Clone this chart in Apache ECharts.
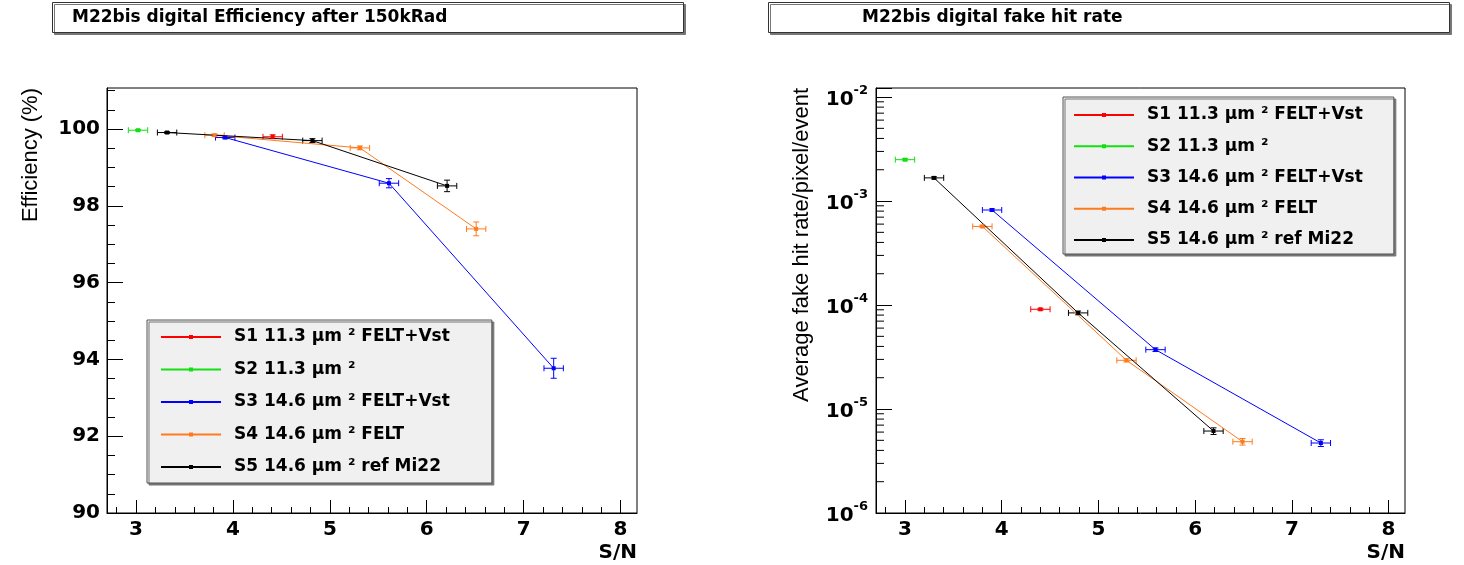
<!DOCTYPE html>
<html><head><meta charset="utf-8">
<script src="https://cdn.jsdelivr.net/npm/echarts@6/dist/echarts.min.js"></script>
<style>html,body{margin:0;padding:0;background:#fff;}#c{width:1464px;height:565px;}</style>
</head><body><div id="c"></div>
<script>
// ---------------- data ----------------
const seriesNames = ['S1 11.3 μm ² FELT+Vst', 'S2 11.3 μm ²', 'S3 14.6 μm ² FELT+Vst', 'S4 14.6 μm ² FELT', 'S5 14.6 μm ² ref Mi22'];
const seriesColors = ['#ff0000', '#11e011', '#0000ff', '#ff7a1e', '#000000'];

// Efficiency vs S/N
const effSN      = [[4.41], [3.02], [3.92, 5.61, 7.31], [3.81, 5.31, 6.51], [3.32, 4.82, 6.21]];
const effSNErr   = [[0.10], [0.10], [0.10, 0.10, 0.10], [0.10, 0.10, 0.10], [0.10, 0.10, 0.10]];
const effValues  = [[99.80], [99.97], [99.78, 98.59, 93.77], [99.84, 99.51, 97.40], [99.91, 99.70, 98.52]];
const effErr     = [[0.05], [0.02], [0.03, 0.12, 0.26], [0.03, 0.05, 0.18], [0.02, 0.05, 0.15]];

// Fake hit rate vs S/N
const fakeSN     = [[4.40], [3.00], [3.90, 5.59, 7.30], [3.80, 5.29, 6.49], [3.30, 4.79, 6.19]];
const fakeSNErr  = [[0.10], [0.10], [0.10, 0.10, 0.10], [0.10, 0.10, 0.10], [0.10, 0.10, 0.10]];
const fakeValues = [[9.1e-5], [2.5e-3], [8.2e-4, 3.72e-5, 4.71e-6], [5.7e-4, 2.94e-5, 4.85e-6], [1.67e-3, 8.4e-5, 6.14e-6]];
const fakeErr    = [[2e-6], [6e-5], [2e-5, 1.5e-6, 3.5e-7], [1.5e-5, 1e-6, 3.5e-7], [4e-5, 3.5e-6, 4.5e-7]];

// axes / ticks
const snRange = [2.7, 8.17];
const snTicks = [3, 4, 5, 6, 7, 8];
const snMinorTicks = [2.8, 3.2, 3.4, 3.6, 3.8, 4.2, 4.4, 4.6, 4.8, 5.2, 5.4, 5.6, 5.8, 6.2, 6.4, 6.6, 6.8, 7.2, 7.4, 7.6, 7.8];
const effRange = [90, 101.07];
const effTicks = [90, 92, 94, 96, 98, 100];
const fakeRange = [1e-6, 0.01222];
const fakeMinorTicks = [
  2e-6, 3e-6, 4e-6, 5e-6, 6e-6, 7e-6, 8e-6, 9e-6,
  2e-5, 3e-5, 4e-5, 5e-5, 6e-5, 7e-5, 8e-5, 9e-5,
  2e-4, 3e-4, 4e-4, 5e-4, 6e-4, 7e-4, 8e-4, 9e-4,
  2e-3, 3e-3, 4e-3, 5e-3, 6e-3, 7e-3, 8e-3, 9e-3
];
const titles = ['M22bis digital Efficiency after 150kRad', 'M22bis digital fake hit rate'];
const yTitles = ['Efficiency (%)', 'Average fake hit rate/pixel/event'];
const xTitle = 'S/N';

// ---------------- chart ----------------
const BOLD = 'DejaVu Sans';
const labelFont = {fontFamily: BOLD, fontWeight: 'bold', fontSize: 20, color: '#000'};

function renderErr(params, api) {
  const x = api.value(0), y = api.value(1), ex = api.value(2), ey = api.value(3);
  const c = api.coord([x, y]);
  const l = api.coord([x - ex, y]), r = api.coord([x + ex, y]);
  const b = api.coord([x, y - ey]), t = api.coord([x, y + ey]);
  const style = {stroke: api.visual('color'), lineWidth: 1, fill: null};
  const cap = 3;
  const L = (x1, y1, x2, y2) => ({type: 'line', shape: {x1, y1, x2, y2}, style});
  return {type: 'group', children: [
    L(l[0], c[1], r[0], c[1]),
    L(l[0], c[1] - cap, l[0], c[1] + cap),
    L(r[0], c[1] - cap, r[0], c[1] + cap),
    L(c[0], b[1], c[0], t[1]),
    L(c[0] - cap, b[1], c[0] + cap, b[1]),
    L(c[0] - cap, t[1], c[0] + cap, t[1])
  ]};
}
function renderMinorY(params, api) {
  const p = api.coord([api.value(0), api.value(1)]);
  const x0 = params.coordSys.x;
  return {type: 'line', shape: {x1: x0, y1: p[1], x2: x0 + 8, y2: p[1]}, style: {stroke: '#000', lineWidth: 1}};
}

const series = [];
[[effSN, effValues, 0, 0], [fakeSN, fakeValues, 2, 1]].forEach(([xs, ys, xi, yi]) => {
  seriesNames.forEach((name, k) => {
    series.push({
      type: 'line', name, xAxisIndex: xi, yAxisIndex: yi,
      data: xs[k].map((x, i) => [x, ys[k][i]]),
      symbol: 'rect', symbolSize: 4, showAllSymbol: true,
      lineStyle: {color: seriesColors[k], width: 1},
      itemStyle: {color: seriesColors[k]},
      emphasis: {disabled: true}, silent: true, z: 3
    });
  });
});
[[effSN, effValues, effSNErr, effErr, 0, 0], [fakeSN, fakeValues, fakeSNErr, fakeErr, 2, 1]].forEach(([xs, ys, exs, eys, xi, yi]) => {
  seriesNames.forEach((name, k) => {
    series.push({
      type: 'custom', name, xAxisIndex: xi, yAxisIndex: yi,
      data: xs[k].map((x, i) => [x, ys[k][i], exs[k][i], eys[k][i]]),
      encode: {x: 0, y: 1},
      itemStyle: {color: seriesColors[k]},
      renderItem: renderErr, clip: false, silent: true, z: 2
    });
  });
});
series.push({
  type: 'custom', xAxisIndex: 2, yAxisIndex: 1,
  data: fakeMinorTicks.map(v => [snRange[0], v]),
  encode: {x: 0, y: 1},
  renderItem: renderMinorY, clip: false, silent: true, z: 4
});

function snAxis(gridIndex) {
  return {type: 'value', gridIndex, position: 'bottom', min: snRange[0], max: snRange[1],
    axisLine: {show: true, onZero: false, lineStyle: {color: '#000', width: 1}},
    axisTick: {show: true, inside: true, length: 13, customValues: snTicks, lineStyle: {color: '#000'}},
    axisLabel: Object.assign({show: true, customValues: snTicks, margin: 7}, labelFont),
    splitLine: {show: false}};
}
function snMinorAxis(gridIndex) {
  return {type: 'value', gridIndex, position: 'bottom', min: snRange[0], max: snRange[1],
    axisLine: {show: false},
    axisTick: {show: true, inside: true, length: 6, customValues: snMinorTicks, lineStyle: {color: '#000'}},
    axisLabel: {show: false}, splitLine: {show: false}};
}

const legendBase = {
  data: seriesNames, orient: 'vertical', itemWidth: 60, itemHeight: 5,
  backgroundColor: '#f0f0f0', borderColor: '#555', borderWidth: 1,
  shadowColor: '#777', shadowOffsetX: 2, shadowOffsetY: 2, shadowBlur: 0,
  selectedMode: false,
  textStyle: {fontFamily: BOLD, fontWeight: 'bold', fontSize: 17, color: '#000', lineHeight: 20, padding: [0, 0, 0, 8]}
};
const titleBase = {
  top: 2, backgroundColor: '#fff', borderColor: '#333', borderWidth: 1,
  shadowColor: '#777', shadowOffsetX: 2, shadowOffsetY: 2, shadowBlur: 0,
  textStyle: {fontFamily: BOLD, fontWeight: 'bold', fontSize: 17, color: '#000', lineHeight: 19}
};

const option = {
  animation: false,
  backgroundColor: '#fff',
  title: [
    Object.assign({text: titles[0], left: 52, padding: [6, 236, 6, 20]}, titleBase),
    Object.assign({text: titles[1], left: 768, padding: [6, 327, 6, 94]}, titleBase)
  ],
  legend: [
    Object.assign({left: 147, top: 320, itemGap: 12.5, padding: [7, 42, 6, 13]}, legendBase),
    Object.assign({left: 1063, top: 97, itemGap: 11.25, padding: [8, 31, 4, 10]}, legendBase)
  ],
  grid: [
    {left: 107, top: 88, width: 530, height: 425, show: true, borderColor: '#000', borderWidth: 1, backgroundColor: '#fff', containLabel: false},
    {left: 876, top: 88, width: 529, height: 425, show: true, borderColor: '#000', borderWidth: 1, backgroundColor: '#fff', containLabel: false}
  ],
  xAxis: [snAxis(0), snMinorAxis(0), snAxis(1), snMinorAxis(1)],
  yAxis: [
    {type: 'value', gridIndex: 0, min: effRange[0], max: effRange[1], interval: 2,
      axisLine: {show: true, onZero: false, lineStyle: {color: '#000', width: 1}},
      axisTick: {show: true, inside: true, length: 16, customValues: effTicks, lineStyle: {color: '#000'}},
      minorTick: {show: true, splitNumber: 4, length: 8, lineStyle: {color: '#000'}},
      axisLabel: Object.assign({customValues: effTicks, margin: 7}, labelFont),
      splitLine: {show: false}},
    {type: 'log', gridIndex: 1, logBase: 10, min: fakeRange[0], max: fakeRange[1],
      axisLine: {show: true, onZero: false, lineStyle: {color: '#000', width: 1}},
      axisTick: {show: true, inside: true, length: 16, lineStyle: {color: '#000'}},
      axisLabel: {margin: 8,
        formatter: v => {
          const e = Math.log10(v), r = Math.round(e);
          if (Math.abs(e - r) > 1e-6) return '';
          return '{b|10}{s|' + r + '}';
        },
        rich: {
          b: {fontFamily: BOLD, fontWeight: 'bold', fontSize: 20, color: '#000', verticalAlign: 'bottom', lineHeight: 26},
          s: {fontFamily: BOLD, fontWeight: 'bold', fontSize: 13, color: '#000', verticalAlign: 'top', lineHeight: 14}
        }},
      splitLine: {show: false}}
  ],
  graphic: [
    {type: 'text', x: 31, y: 88, rotation: Math.PI / 2, silent: true,
      style: {text: yTitles[0], fontFamily: 'Liberation Sans', fontSize: 22, fill: '#000', align: 'right', verticalAlign: 'middle'}},
    {type: 'text', x: 802, y: 88, rotation: Math.PI / 2, silent: true,
      style: {text: yTitles[1], fontFamily: 'Liberation Sans', fontSize: 22, fill: '#000', align: 'right', verticalAlign: 'middle'}},
    {type: 'text', x: 637, y: 553, silent: true,
      style: {text: xTitle, fontFamily: BOLD, fontWeight: 'bold', fontSize: 20, fill: '#000', align: 'right', verticalAlign: 'middle'}},
    {type: 'text', x: 1405, y: 553, silent: true,
      style: {text: xTitle, fontFamily: BOLD, fontWeight: 'bold', fontSize: 20, fill: '#000', align: 'right', verticalAlign: 'middle'}}
  ],
  series
};
const chart = echarts.init(document.getElementById('c'));
chart.setOption(option);
</script></body></html>
